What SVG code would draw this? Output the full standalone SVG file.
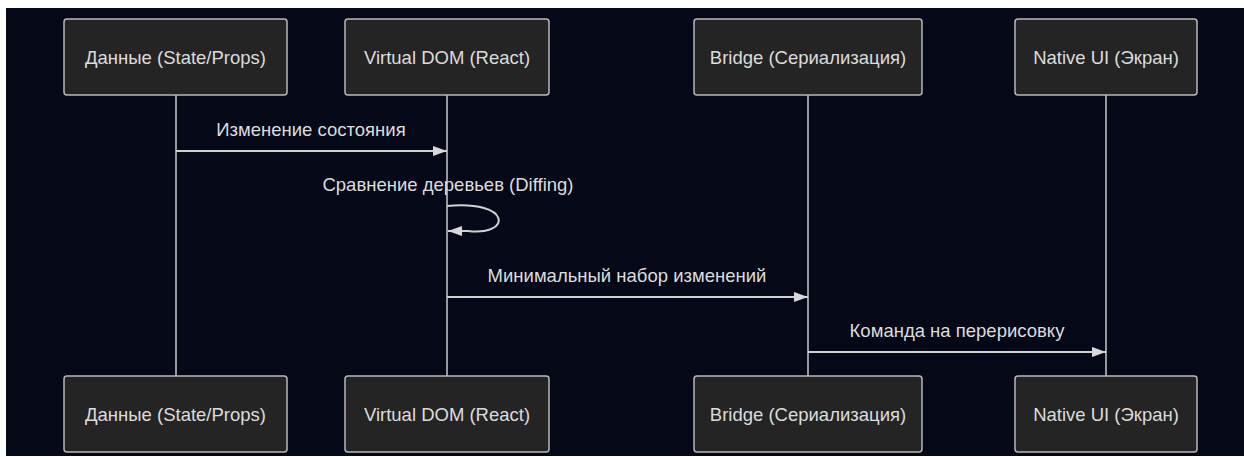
<svg xmlns="http://www.w3.org/2000/svg" width="1244" height="457" viewBox="0 0 1244 457">
  <style>
    .actor rect { fill: #242424; stroke: #b8b8b8; stroke-width: 1.5; }
    .actor text { fill: #dcdcdc; font-family: "Liberation Sans", Arial, sans-serif; font-size: 18.5px; text-anchor: middle; dominant-baseline: central; }
    .lifeline { stroke: #c8c8c8; stroke-width: 1.5; fill: none; }
    .msg { stroke: #d0d0d0; stroke-width: 2; fill: none; marker-end: url(#arrow); }
    .label { fill: #dcdcdc; font-family: "Liberation Sans", Arial, sans-serif; font-size: 18.5px; text-anchor: middle; }
  </style>
  <defs>
    <marker id="arrow" viewBox="0 0 14 10" refX="14" refY="5" markerWidth="14" markerHeight="10" markerUnits="userSpaceOnUse" orient="auto">
      <path d="M0,0 L14,5 L0,10 z" fill="#d8d8d8"/>
    </marker>
  </defs>
  <rect x="0" y="0" width="1244" height="457" fill="#ffffff"/>
  <rect x="6" y="8" width="1238" height="448" fill="#050817"/>

  <g id="lifelines">
    <line class="lifeline" x1="176" y1="95" x2="176" y2="376"/>
    <line class="lifeline" x1="447" y1="95" x2="447" y2="376"/>
    <line class="lifeline" x1="808" y1="95" x2="808" y2="376"/>
    <line class="lifeline" x1="1106" y1="95" x2="1106" y2="376"/>
  </g>

  <g id="actor-data-top" class="actor">
    <rect x="64" y="19" width="223" height="76" rx="3"/>
    <text x="175.5" y="57">Данные (State/Props)</text>
  </g>
  <g id="actor-vdom-top" class="actor">
    <rect x="345" y="19" width="204" height="76" rx="3"/>
    <text x="447" y="57">Virtual DOM (React)</text>
  </g>
  <g id="actor-bridge-top" class="actor">
    <rect x="694" y="19" width="228" height="76" rx="3"/>
    <text x="808" y="57">Bridge (Сериализация)</text>
  </g>
  <g id="actor-native-top" class="actor">
    <rect x="1015" y="19" width="182" height="76" rx="3"/>
    <text x="1106" y="57">Native UI (Экран)</text>
  </g>

  <g id="actor-data-bottom" class="actor">
    <rect x="64" y="376" width="223" height="76" rx="3"/>
    <text x="175.5" y="414">Данные (State/Props)</text>
  </g>
  <g id="actor-vdom-bottom" class="actor">
    <rect x="345" y="376" width="204" height="76" rx="3"/>
    <text x="447" y="414">Virtual DOM (React)</text>
  </g>
  <g id="actor-bridge-bottom" class="actor">
    <rect x="694" y="376" width="228" height="76" rx="3"/>
    <text x="808" y="414">Bridge (Сериализация)</text>
  </g>
  <g id="actor-native-bottom" class="actor">
    <rect x="1015" y="376" width="182" height="76" rx="3"/>
    <text x="1106" y="414">Native UI (Экран)</text>
  </g>

  <g id="connectors">
    <line class="msg" x1="176" y1="151" x2="447" y2="151"/>
    <text class="label" x="311" y="136">Изменение состояния</text>

    <path class="msg" d="M447,206 C512,200 512,236 468,231 L448,231"/>
    <text class="label" x="448" y="191">Сравнение деревьев (Diffing)</text>

    <line class="msg" x1="447" y1="297" x2="808" y2="297"/>
    <text class="label" x="627" y="282">Минимальный набор изменений</text>

    <line class="msg" x1="808" y1="352" x2="1106" y2="352"/>
    <text class="label" x="957" y="337">Команда на перерисовку</text>
  </g>
</svg>
